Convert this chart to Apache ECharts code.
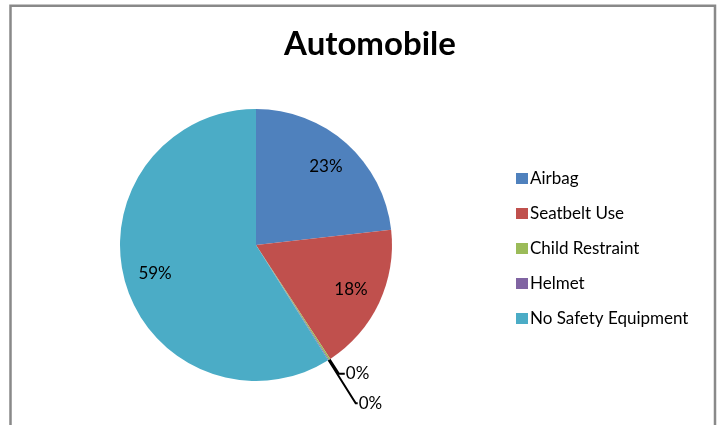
<!DOCTYPE html>
<html>
<head>
<meta charset="utf-8">
<script src="https://cdn.jsdelivr.net/npm/echarts@6/dist/echarts.min.js"></script>
<style>html,body{margin:0;padding:0;background:#fff}#c{width:720px;height:425px}</style>
</head>
<body>
<div id="c"></div>
<script>
const categories = ['Airbag', 'Seatbelt Use', 'Child Restraint', 'Helmet', 'No Safety Equipment'];
const values = [23.2, 17.6, 0.2, 0.1, 58.9];
const colors = ['#4F81BD', '#C0504D', '#9BBB59', '#8064A2', '#4BACC6'];
const smallSlices = ['Child Restraint', 'Helmet'];
const smallLineLength = { 'Child Restraint': 17, 'Helmet': 51 };
const smallLineLength2 = { 'Child Restraint': 6, 'Helmet': 2 };

const FONT = 'Lato';
const pct = p => Math.round(p.percent) + '%';

const chart = echarts.init(document.getElementById('c'), null, { renderer: 'canvas' });

const mainData = categories.map((n, i) => {
  const small = smallSlices.includes(n);
  return {
    name: n, value: values[i],
    itemStyle: { color: colors[i] },
    label: { show: small },
    labelLine: { show: small, length: small ? smallLineLength[n] : 10, length2: small ? smallLineLength2[n] : 6 }
  };
});
const ringData = categories.map((n, i) => ({
  name: n, value: values[i],
  itemStyle: { color: 'rgba(0,0,0,0)' },
  label: { show: !smallSlices.includes(n) }
}));

chart.setOption({
  animation: false,
  backgroundColor: '#fff',
  color: colors,
  title: {
    text: 'Automobile', left: 365, top: 23, textAlign: 'center',
    textStyle: { fontFamily: FONT, fontWeight: 'bold', fontSize: 33, color: '#000' }
  },
  legend: {
    orient: 'vertical', left: 511, top: 165, icon: 'rect',
    itemWidth: 12, itemHeight: 11, itemGap: 18,
    textStyle: { fontFamily: FONT, fontSize: 17, color: '#000', lineHeight: 17, padding: [0,0,0,-3] },
    data: categories.map((n, i) => ({ name: n, itemStyle: { color: colors[i] } }))
  },
  graphic: [{
    type: 'rect', shape: { x: 10.5, y: 5.8, width: 704.5, height: 440 },
    style: { fill: 'none', stroke: '#898989', lineWidth: 2.5 }, silent: true
  }],
  series: [
    {
      type: 'pie', center: [256, 245], radius: 136,
      startAngle: 90, clockwise: true, avoidLabelOverlap: false,
      data: mainData,
      label: { position: 'outside', formatter: pct, fontFamily: FONT, fontSize: 17, color: '#000', distanceToLabelLine: 1 },
      labelLine: { lineStyle: { color: '#000', width: 2 } },
      itemStyle: { borderWidth: 0 },
      emphasis: { disabled: true }
    },
    {
      type: 'pie', center: [256, 245], radius: [68, 136],
      startAngle: 90, clockwise: true, silent: true,
      data: ringData,
      label: { position: 'inside', formatter: pct, fontFamily: FONT, fontSize: 17, color: '#000' },
      labelLine: { show: false },
      emphasis: { disabled: true }
    }
  ]
});
</script>
</body>
</html>
